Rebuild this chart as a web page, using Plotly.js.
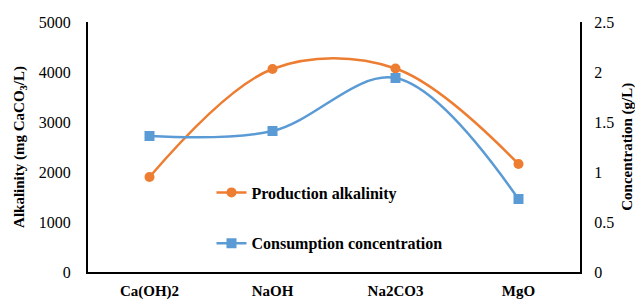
<!DOCTYPE html>
<html><head><meta charset="utf-8">
<script src="https://cdn.plot.ly/plotly-3.0.1.min.js"></script>
<style>body{margin:0;background:#fff}#chart{width:635px;height:300px}</style>
</head><body><div id="chart"></div>
<script>
const categories = ["Ca(OH)2", "NaOH", "Na2CO3", "MgO"];
const productionAlkalinity = [1900, 4060, 4070, 2160];
const consumptionConcentration = [1.36, 1.41, 1.94, 0.73];
const leftTicks = [0, 1000, 2000, 3000, 4000, 5000];
const rightTicks = [0, 0.5, 1, 1.5, 2, 2.5];
const rightTickText = ["0", "0.5", "1", "1.5", "2", "2.5"];

const serif = "Liberation Serif, Times New Roman, serif";
const traces = [
  {x: categories, y: productionAlkalinity, name: "<b>Production alkalinity</b>", type: "scatter", mode: "lines+markers",
   line: {color: "#ED7D31", width: 2.5, shape: "spline", smoothing: 1}, marker: {symbol: "circle", size: 10, color: "#ED7D31"},
   legendgroup: "a", yaxis: "y"},
  {x: categories, y: consumptionConcentration, name: "<b>Consumption concentration</b>", type: "scatter", mode: "lines+markers",
   line: {color: "#5B9BD5", width: 2.5, shape: "spline", smoothing: 1}, marker: {symbol: "square", size: 10, color: "#5B9BD5"},
   legendgroup: "b", yaxis: "y2"}
];
const layout = {
  width: 635, height: 300,
  margin: {l: 88, r: 55, t: 22, b: 28},
  paper_bgcolor: "#fff", plot_bgcolor: "#fff",
  font: {family: serif, size: 16, color: "#000"},
  showlegend: true,
  legend: {x: 0.251, y: 0.216, xanchor: "left", yanchor: "middle", bgcolor: "rgba(0,0,0,0)",
           font: {family: serif, size: 16, color: "#000"}, tracegroupgap: 27, itemwidth: 30},
  xaxis: {type: "category", range: [-0.5, 3.5], showgrid: false, zeroline: false,
          showline: true, linecolor: "#000", linewidth: 2, ticks: "", tickfont: {family: serif, size: 15, color: "#000", weight: "bold"},
          ticklabelstandoff: 4},
  yaxis: {range: [0, 5000], tickvals: leftTicks, showgrid: false, zeroline: false,
          showline: true, linecolor: "#000", linewidth: 2, ticks: "", ticklabelstandoff: 12,
          tickfont: {family: serif, size: 16, color: "#000"},
          title: {text: "<b>Alkalinity (mg CaCO<sub>3</sub>/L)</b>", font: {family: serif, size: 15, color: "#000"}, standoff: 11}},
  yaxis2: {range: [0, 2.5], tickvals: rightTicks, ticktext: rightTickText, overlaying: "y", side: "right",
           showgrid: false, zeroline: false, showline: true, linecolor: "#000", linewidth: 2, ticks: "", ticklabelstandoff: 9,
           tickfont: {family: serif, size: 16, color: "#000"}},
  annotations: [
    {text: "<b>Concentration (g/L)</b>", xref: "paper", yref: "paper", x: 1.095, y: 0.5, xanchor: "center", yanchor: "middle",
     textangle: -90, showarrow: false, font: {family: serif, size: 15, color: "#000"}}
  ]
};
Plotly.newPlot("chart", traces, layout, {displayModeBar: false, staticPlot: true});
</script></body></html>
